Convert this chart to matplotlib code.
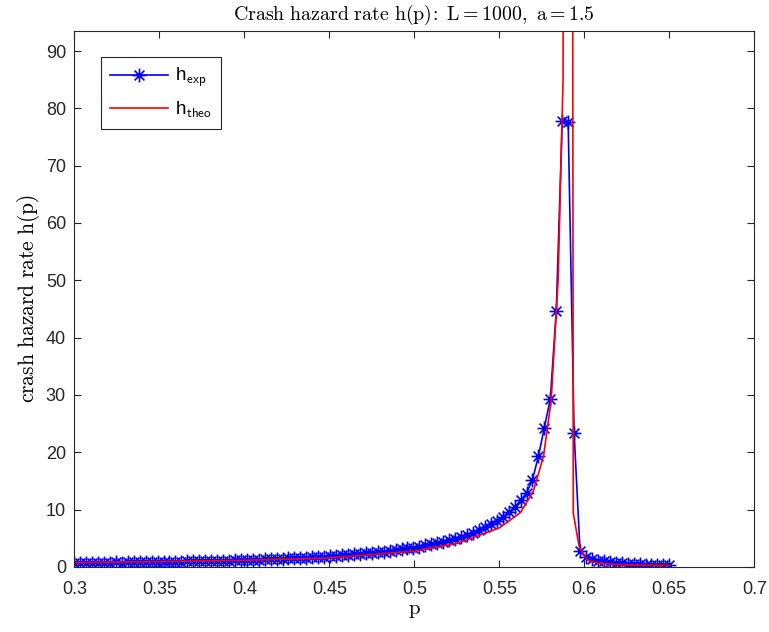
import matplotlib
matplotlib.use("Agg")
import matplotlib.pyplot as plt
from matplotlib.path import Path
import numpy as np

# experimental hazard rate (grid step 0.0035 from 0.3 to 0.65)
p_exp = np.round(np.arange(0.3, 0.65 + 1e-9, 0.0035), 4)
h_exp = [0.70, 0.72, 0.70, 0.73, 0.74, 0.72, 0.76, 0.77, 0.75, 0.79,
         0.80, 0.82, 0.81, 0.85, 0.86, 0.88, 0.87, 0.91, 0.93, 0.95,
         0.96, 0.99, 1.01, 1.03, 1.05, 1.09, 1.10, 1.14, 1.17, 1.20,
         1.23, 1.27, 1.30, 1.35, 1.38, 1.43, 1.47, 1.52, 1.57, 1.62,
         1.68, 1.74, 1.80, 1.87, 1.94, 2.01, 2.09, 2.17, 2.26, 2.35,
         2.45, 2.56, 2.68, 2.80, 2.93, 3.07, 3.22, 3.38, 3.55, 3.74,
         3.95, 4.17, 4.41, 4.65, 4.90, 5.20, 5.55, 5.95, 6.40, 6.90,
         7.45, 8.05, 8.75, 9.50, 10.4, 11.6, 12.9, 15.2, 19.3, 24.3,
         29.3, 44.6, 77.8, 77.6, 23.4, 2.8, 1.8, 1.35, 1.10, 0.95,
         0.82, 0.72, 0.62, 0.55, 0.50, 0.45, 0.40, 0.38, 0.35, 0.32,
         0.30]

# theoretical hazard rate
p_theo = [0.300, 0.350, 0.400, 0.450, 0.500, 0.525, 0.550, 0.5625, 0.570,
          0.576, 0.5805, 0.5846, 0.5875, 0.5885, 0.5925, 0.5935, 0.597,
          0.6015, 0.605, 0.610, 0.620, 0.630, 0.640, 0.650]
h_theo = [0.75, 0.92, 1.15, 1.55, 2.75, 4.1, 6.8, 9.5, 13.2,
          19.3, 29.0, 50.0, 85.0, 250.0, 300.0, 9.4, 3.5,
          1.3, 0.85, 0.6, 0.42, 0.33, 0.28, 0.25]

xticks = [0.3, 0.35, 0.4, 0.45, 0.5, 0.55, 0.6, 0.65, 0.7]
xticklabels = ['0.3', '0.35', '0.4', '0.45', '0.5', '0.55', '0.6', '0.65', '0.7']
yticks = [0, 10, 20, 30, 40, 50, 60, 70, 80, 90]

plt.rcParams['font.family'] = ['Liberation Sans', 'DejaVu Sans']
plt.rcParams['mathtext.fontset'] = 'cm'

# MATLAB-like 8-arm asterisk marker
ast = Path([(-1, 0), (1, 0), (0, -1), (0, 1),
            (-0.707, -0.707), (0.707, 0.707), (-0.707, 0.707), (0.707, -0.707)],
           [Path.MOVETO, Path.LINETO] * 4)

fig = plt.figure(figsize=(7.69, 6.32), dpi=100)
ax = fig.add_axes([0.0966, 0.103, 0.8843, 0.848])

ax.plot(p_exp, h_exp, color=(0, 0, 1), lw=1.2, marker=ast, ms=10,
        mew=1.2, mec=(0, 0, 1), mfc='none', label=r'h$_\mathsf{exp}$')
ax.plot(p_theo, h_theo, color=(1, 0, 0), lw=1.2, label=r'h$_\mathsf{theo}$')

ax.set_xlim(0.3, 0.7)
ax.set_ylim(0, 93.5)
ax.set_xticks(xticks)
ax.set_xticklabels(xticklabels)
ax.set_yticks(yticks)
ax.tick_params(direction='in', top=True, right=True, labelsize=13,
               colors=(0.15, 0.15, 0.15), length=5, width=0.8)
ax.tick_params(axis='x', pad=10)
ax.tick_params(axis='y', pad=6)
for s in ax.spines.values():
    s.set_color((0.15, 0.15, 0.15))
    s.set_linewidth(0.8)

ax.set_title(r'$\mathrm{Crash\ hazard\ rate\ h(p)\!:\ L{=}1000,\ a{=}1.5}$',
             fontsize=14.3, pad=8, color='k')
ax.set_xlabel(r'$\mathrm{p}$', fontsize=15, labelpad=2)
ax.set_ylabel(r'$\mathrm{crash\ hazard\ rate\ h(p)}$', fontsize=15.5, labelpad=3)

leg = ax.legend(loc='upper left', bbox_to_anchor=(0.039, 0.952), fontsize=13.5,
                handlelength=3.1, handletextpad=0.35, borderpad=0.5,
                labelspacing=0.55, fancybox=False, framealpha=1,
                edgecolor=(0.15, 0.15, 0.15), borderaxespad=0)
leg.get_frame().set_linewidth(0.8)

fig.savefig('out.png', dpi=100)
